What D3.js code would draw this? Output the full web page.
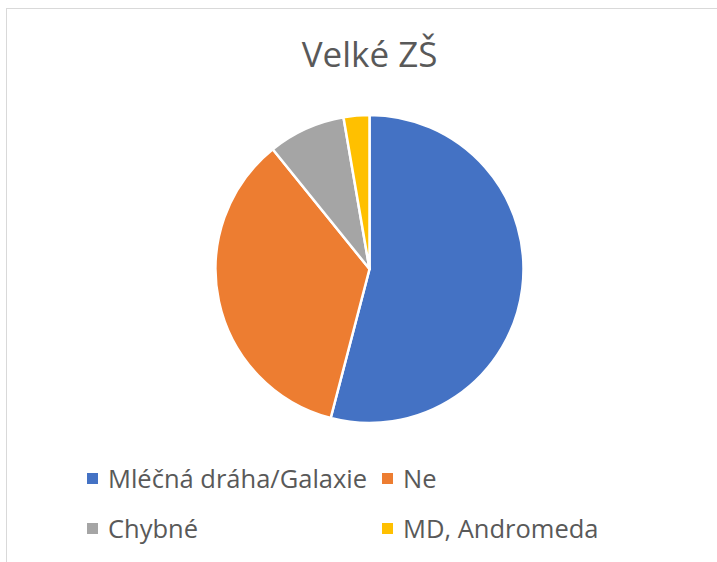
<!DOCTYPE html>
<html>
<head>
<meta charset="utf-8">
<script src="https://cdn.jsdelivr.net/npm/d3@7"></script>
<style>
  body { margin: 0; background: #fff; }
  svg { display: block; font-family: "Open Sans", sans-serif; }
</style>
</head>
<body>
<div id="chart"></div>
<script>
const categories = ['Mléčná dráha/Galaxie', 'Ne', 'Chybné', 'MD, Andromeda'];
const values = [40, 26, 6, 2];
const colors = ['#4472c4', '#ed7d31', '#a5a5a5', '#ffc000'];
const title = 'Velké ZŠ';

const width = 717, height = 562;
const cx = 369.5, cy = 269, radius = 154;

const svg = d3.select('#chart')
  .append('svg')
  .attr('width', width)
  .attr('height', height);

// chart frame
svg.append('rect')
  .attr('x', 6.5).attr('y', 8.5)
  .attr('width', width).attr('height', height)
  .attr('fill', 'none')
  .attr('stroke', '#d9d9d9')
  .attr('stroke-width', 1);

svg.append('text')
  .attr('x', cx).attr('y', 67)
  .attr('text-anchor', 'middle')
  .attr('font-size', 35)
  .attr('fill', '#595959')
  .text(title);

const pie = d3.pie().sort(null).value(d => d);
const arc = d3.arc().innerRadius(0).outerRadius(radius);

const g = svg.append('g')
  .attr('transform', 'translate(' + cx + ', ' + cy + ')');

g.selectAll('path')
  .data(pie(values))
  .enter()
  .append('path')
  .attr('d', arc)
  .attr('fill', (d, i) => colors[i])
  .attr('stroke', '#fff')
  .attr('stroke-width', 2.5)
  .attr('stroke-linejoin', 'round');

// legend, two columns
const legX = [87, 382], legY = [488, 538];
const leg = svg.selectAll('.leg')
  .data(categories)
  .enter()
  .append('g')
  .attr('class', 'leg')
  .attr('transform', (d, i) => 'translate(' + legX[i % 2] + ', ' + legY[Math.floor(i / 2)] + ')');

leg.append('rect')
  .attr('x', 0).attr('y', -15)
  .attr('width', 11).attr('height', 11)
  .attr('fill', (d, i) => colors[i]);

leg.append('text')
  .attr('x', 21).attr('y', 0)
  .attr('font-size', 25.5)
  .attr('fill', '#595959')
  .text(d => d);
</script>
</body>
</html>
